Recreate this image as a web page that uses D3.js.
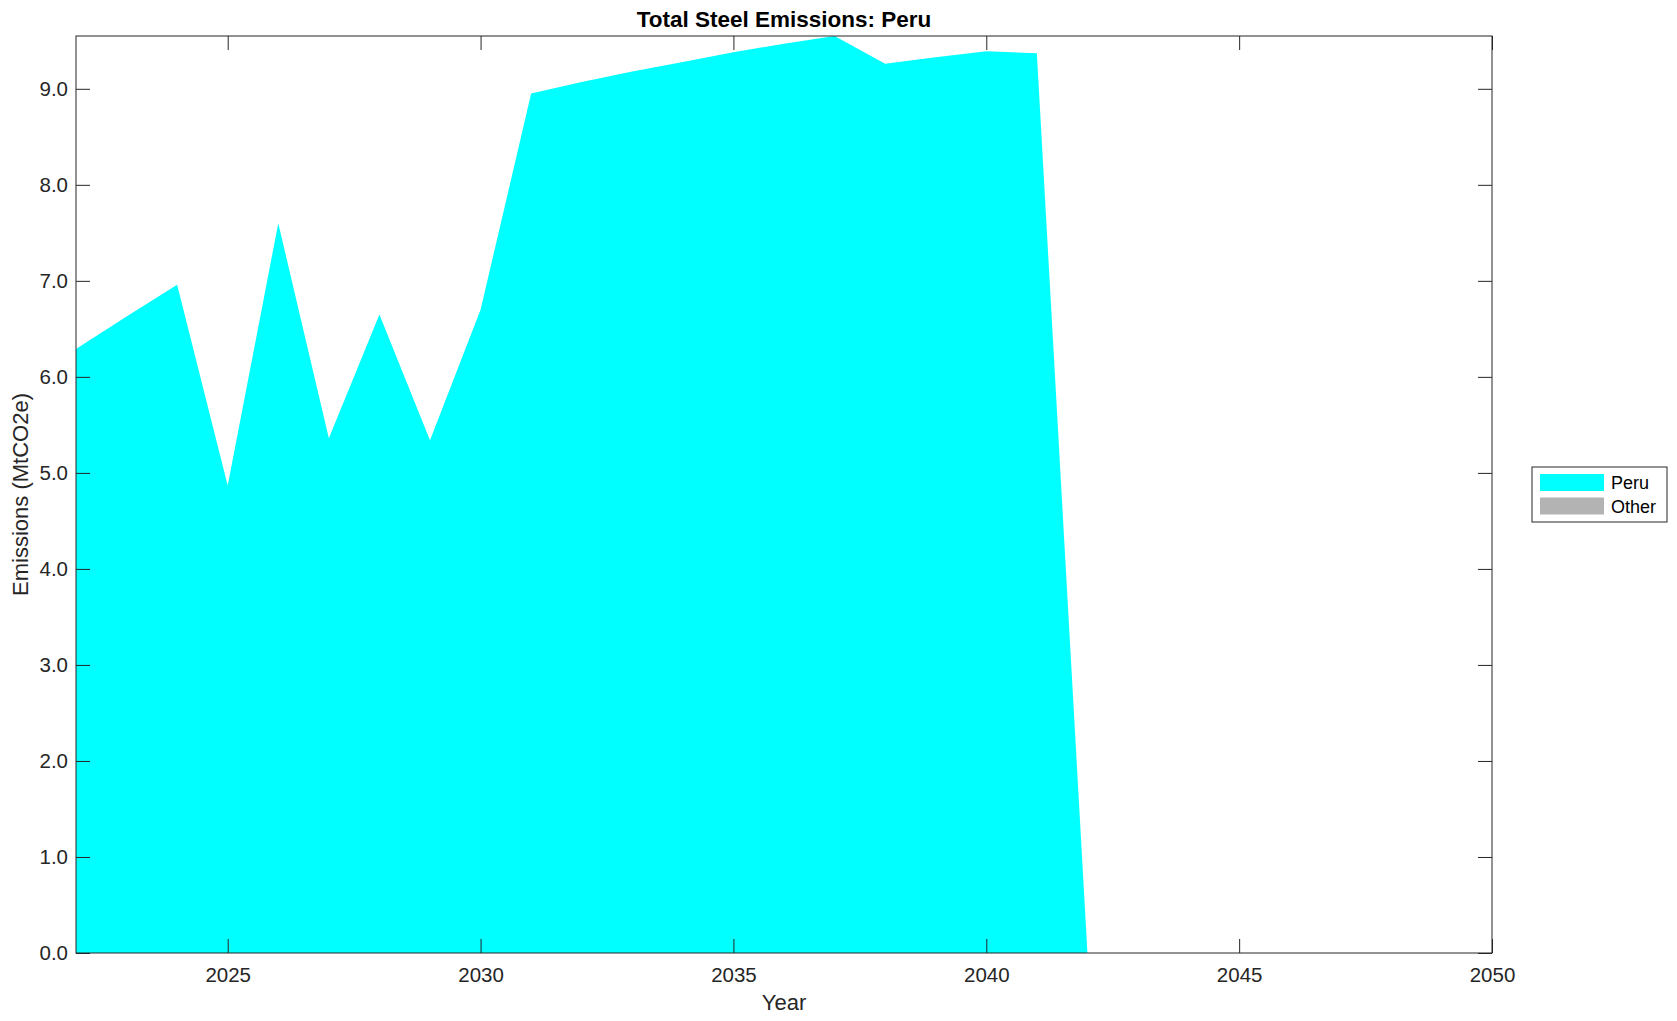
<!DOCTYPE html>
<html>
<head>
<meta charset="utf-8">
<script src="https://cdn.jsdelivr.net/npm/d3@7"></script>
<style>
	body { margin: 0; background: #fff; }
	text { font-family: "Liberation Sans", Arial, Helvetica, sans-serif; }
</style>
</head>
<body>
<script>
//chart data
var years = [2022,2023,2024,2025,2026,2027,2028,2029,2030,2031,2032,2033,2034,2035,2036,2037,2038,2039,2040,2041,2042,2043,2044,2045,2046,2047,2048,2049,2050];
var peruValues = [6.29,6.63,6.96,4.87,7.60,5.36,6.65,5.34,6.70,8.95,9.07,9.18,9.28,9.38,9.47,9.55,9.26,9.33,9.39,9.37,0,0,0,0,0,0,0,0,0];
var otherValues = [0,0,0,0,0,0,0,0,0,0,0,0,0,0,0,0,0,0,0,0,0,0,0,0,0,0,0,0,0];
var seriesNames = ["Peru", "Other"];
var seriesColors = ["#00ffff", "#b3b3b3"];
var xTicks = [2025, 2030, 2035, 2040, 2045, 2050];
var yTicks = [0, 1, 2, 3, 4, 5, 6, 7, 8, 9];

(function () {
	var width = 1677,
		height = 1021;

	//plot frame
	var left = 76, right = 1492, top = 36, bottom = 953;
	var axisColor = "#262626";

	var svg = d3.select("body")
		.append("svg")
		.attr("width", width)
		.attr("height", height);

	//build rows for the stack
	var rows = years.map(function (y, i) {
		return { year: y, Peru: peruValues[i], Other: otherValues[i] };
	});
	var stacked = d3.stack().keys(seriesNames)(rows);

	var x = d3.scaleLinear()
		.domain([years[0], years[years.length - 1]])
		.range([left, right]);

	var y = d3.scaleLinear()
		.domain([0, d3.max(stacked[stacked.length - 1], function (d) { return d[1]; })])
		.range([bottom, top]);

	var area = d3.area()
		.x(function (d) { return x(d.data.year); })
		.y0(function (d) { return y(d[0]); })
		.y1(function (d) { return y(d[1]); });

	//areas
	svg.selectAll(".layer")
		.data(stacked)
		.enter()
		.append("path")
		.attr("class", "layer")
		.attr("d", area)
		.style("fill", function (d, i) { return seriesColors[i]; })
		.style("stroke", "none");

	//axes, ticks inside on all four sides
	var tickLen = 14;
	var xBottom = svg.append("g")
		.attr("transform", "translate(0," + bottom + ")")
		.call(d3.axisBottom(x).tickValues(xTicks).tickSize(-tickLen).tickPadding(14).tickFormat(d3.format("d")));
	var xTop = svg.append("g")
		.attr("transform", "translate(0," + top + ")")
		.call(d3.axisTop(x).tickValues(xTicks).tickSize(-tickLen).tickFormat(""));
	var yLeft = svg.append("g")
		.attr("transform", "translate(" + left + ",0)")
		.call(d3.axisLeft(y).tickValues(yTicks).tickSize(-tickLen).tickPadding(8).tickFormat(d3.format(".1f")));
	var yRight = svg.append("g")
		.attr("transform", "translate(" + right + ",0)")
		.call(d3.axisRight(y).tickValues(yTicks).tickSize(-tickLen).tickFormat(""));

	[xBottom, xTop, yLeft, yRight].forEach(function (g) {
		g.select(".domain").remove();
		g.selectAll(".tick line").attr("stroke", axisColor).attr("stroke-width", 1);
		g.selectAll(".tick text")
			.attr("fill", axisColor)
			.style("font-size", "20.5px");
	});

	//box around the plot
	svg.append("rect")
		.attr("x", left)
		.attr("y", top)
		.attr("width", right - left)
		.attr("height", bottom - top)
		.style("fill", "none")
		.style("stroke", axisColor)
		.style("stroke-width", 1);

	//title and axis labels
	svg.append("text")
		.attr("x", (left + right) / 2)
		.attr("y", 27)
		.attr("text-anchor", "middle")
		.style("font-size", "22.5px")
		.style("font-weight", "bold")
		.attr("fill", "#000")
		.text("Total Steel Emissions: Peru");

	svg.append("text")
		.attr("x", (left + right) / 2)
		.attr("y", 1010)
		.attr("text-anchor", "middle")
		.style("font-size", "22px")
		.attr("fill", axisColor)
		.text("Year");

	svg.append("text")
		.attr("transform", "translate(28," + (top + bottom) / 2 + ") rotate(-90)")
		.attr("text-anchor", "middle")
		.style("font-size", "22px")
		.attr("fill", axisColor)
		.text("Emissions (MtCO2e)");

	//legend
	var legend = svg.append("g").attr("transform", "translate(1532,467)");
	legend.append("rect")
		.attr("width", 135)
		.attr("height", 55)
		.style("fill", "#fff")
		.style("stroke", axisColor)
		.style("stroke-width", 1);

	var items = legend.selectAll(".item")
		.data(seriesNames)
		.enter()
		.append("g")
		.attr("class", "item")
		.attr("transform", function (d, i) { return "translate(8," + (7 + i * 23.5) + ")"; });
	items.append("rect")
		.attr("width", 64)
		.attr("height", 17)
		.style("fill", function (d, i) { return seriesColors[i]; });
	items.append("text")
		.attr("x", 71)
		.attr("y", 15)
		.style("font-size", "18px")
		.attr("fill", "#000")
		.text(function (d) { return d; });
})();
</script>
</body>
</html>
